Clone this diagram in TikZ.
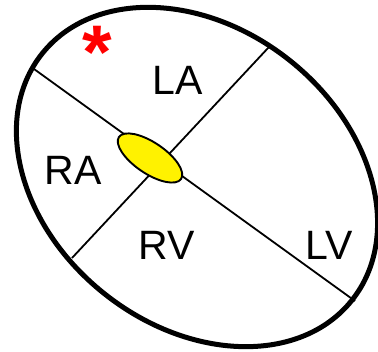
\documentclass[tikz,border=0pt]{standalone}
\usepackage{fontspec}
\setmainfont{Liberation Sans}
\begin{document}
\begin{tikzpicture}[x=1pt,y=1pt,
  outline/.style={line width=5pt},
  septum/.style={line width=1.8pt},
  chamber/.style={font=\fontsize{41}{41}\selectfont, inner sep=0pt, anchor=center},
  valve/.style={fill=yellow, draw=black, line width=1.9pt}]
\useasboundingbox (0,0) rectangle (378,352);
% image (X,Y) -> (X, 352-Y)
\coordinate (c) at (197,175);
\draw[outline, rotate around={-38.5:(c)}] (c) ellipse [x radius=198, y radius=149];
\coordinate (a1) at (34,283);
\coordinate (a2) at (355,51);
\coordinate (b1) at (269,305);
\coordinate (b2) at (72,94);
\draw[septum] (a1) -- (a2);
\draw[septum] (b1) -- (b2);
\coordinate (v) at (150,194);
\draw[valve, rotate around={-34:(v)}] (v) ellipse [x radius=37.5, y radius=15.5];
\node[chamber] (la) at (178,272) {LA};
\node[chamber] (ra) at (73,182) {RA};
\node[chamber] (rv) at (167,107) {RV};
\node[chamber] (lv) at (329,107) {LV};
\node[font=\fontsize{76}{76}\bfseries\selectfont, text=red, inner sep=0pt, anchor=center] (star) at (97,300) {*};
\end{tikzpicture}
\end{document}
